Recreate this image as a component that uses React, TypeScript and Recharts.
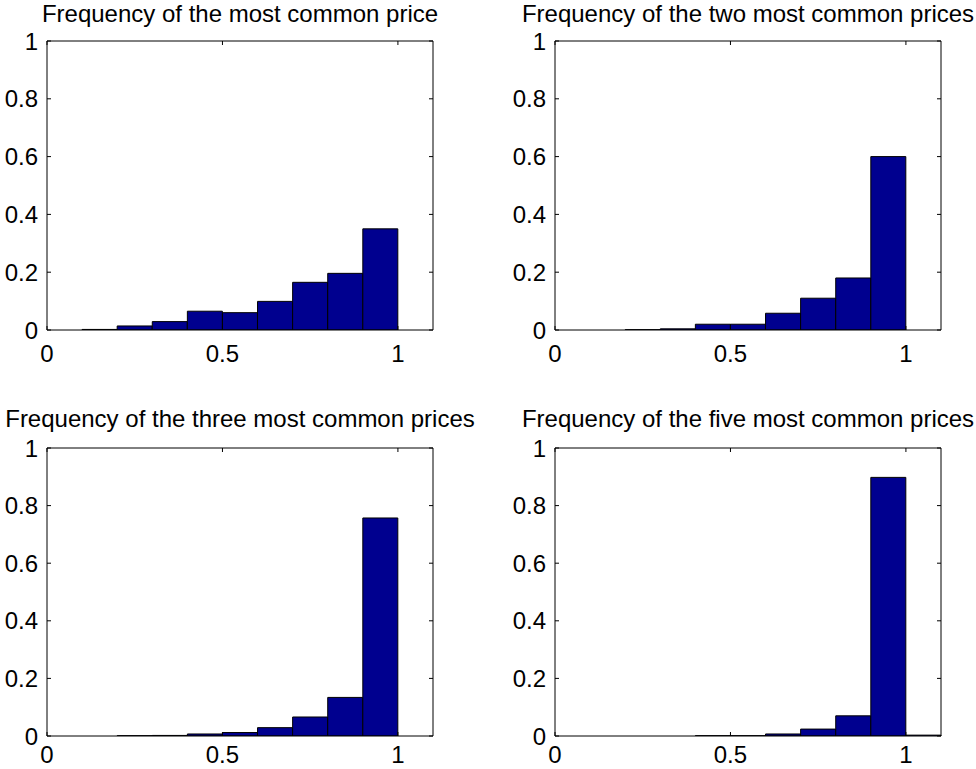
import { BarChart, Bar, XAxis, YAxis } from 'recharts';

// histogram bins of width 0.1, from 0 to 1.1
const bins = ['0-0.1', '0.1-0.2', '0.2-0.3', '0.3-0.4', '0.4-0.5', '0.5-0.6', '0.6-0.7', '0.7-0.8', '0.8-0.9', '0.9-1', '1-1.1'];
const binStarts = [0, 0.1, 0.2, 0.3, 0.4, 0.5, 0.6, 0.7, 0.8, 0.9, 1];

const mostCommon = [0, 0.002, 0.014, 0.029, 0.065, 0.06, 0.099, 0.165, 0.196, 0.35, 0];
const twoMostCommon = [0, 0, 0.001, 0.004, 0.02, 0.02, 0.058, 0.11, 0.18, 0.6, 0];
const threeMostCommon = [0, 0, 0.001, 0.002, 0.007, 0.012, 0.029, 0.066, 0.134, 0.757, 0];
const fiveMostCommon = [0, 0, 0, 0, 0.001, 0.001, 0.007, 0.024, 0.07, 0.898, 0.003];

const titles = [
  'Frequency of the most common price',
  'Frequency of the two most common prices',
  'Frequency of the three most common prices',
  'Frequency of the five most common prices'
];

const xTicks = [0, 0.5, 1];
const yTicks = [0, 0.2, 0.4, 0.6, 0.8, 1];

const FONT = '"Liberation Sans", Arial, Helvetica, sans-serif';
const BAR_FILL = '#00008f';
const TICK_LEN = 4;
const Y_MARGIN = 9;

// x ticks sit on bin edges, so shift from the band centre to its left edge
const edgeOf = (x: number, width: number) => x - width / bins.length / 2;

const BottomTick = ({ x, y, width, payload, gap }: any) => {
  const start = binStarts[payload.index];
  if (!xTicks.includes(start)) return <g />;
  const ex = edgeOf(x, width);
  return (
    <g>
      <line x1={ex} y1={y - gap} x2={ex} y2={y - gap - TICK_LEN} stroke="#000" />
      <text x={ex} y={y} dy="0.71em" textAnchor="middle" fill="#000" fontSize={24} fontFamily={FONT}>
        {start}
      </text>
    </g>
  );
};

const TopTick = ({ x, y, width, payload }: any) => {
  const start = binStarts[payload.index];
  if (!xTicks.includes(start)) return <g />;
  const ex = edgeOf(x, width);
  return <line x1={ex} y1={y} x2={ex} y2={y + TICK_LEN} stroke="#000" />;
};

const LeftTick = ({ x, y, payload }: any) => (
  <g>
    <line x1={x + Y_MARGIN} y1={y} x2={x + Y_MARGIN + TICK_LEN} y2={y} stroke="#000" />
    <text x={x} y={y} dy="0.355em" textAnchor="end" fill="#000" fontSize={24} fontFamily={FONT}>
      {payload.value}
    </text>
  </g>
);

const RightTick = ({ x, y }: any) => (
  <line x1={x} y1={y} x2={x - TICK_LEN} y2={y} stroke="#000" />
);

function Histogram({ values, plotHeight, axisHeight, labelGap }: { values: number[]; plotHeight: number; axisHeight: number; labelGap: number }) {
  const data = bins.map((bin, i) => ({ bin, freq: values[i] }));
  return (
    <BarChart
      width={441}
      height={21 + plotHeight + axisHeight}
      data={data}
      margin={{ top: 20, right: 0, bottom: 0, left: 0 }}
      barCategoryGap={0}
      barGap={0}
    >
      <XAxis
        xAxisId="bottom"
        dataKey="bin"
        interval={0}
        height={axisHeight}
        tickSize={0}
        tickMargin={labelGap}
        tick={<BottomTick gap={labelGap} />}
        axisLine={{ stroke: '#000' }}
        tickLine={false}
      />
      <XAxis
        xAxisId="top"
        orientation="top"
        dataKey="bin"
        interval={0}
        height={1}
        tickSize={0}
        tickMargin={0}
        tick={<TopTick />}
        axisLine={{ stroke: '#000' }}
        tickLine={false}
      />
      <YAxis
        yAxisId="left"
        type="number"
        domain={[0, 1]}
        ticks={yTicks}
        allowDataOverflow
        width={45}
        tickSize={0}
        tickMargin={Y_MARGIN}
        tick={<LeftTick />}
        axisLine={{ stroke: '#000' }}
        tickLine={false}
      />
      <YAxis
        yAxisId="right"
        orientation="right"
        type="number"
        domain={[0, 1]}
        ticks={yTicks}
        allowDataOverflow
        width={10}
        tickSize={0}
        tickMargin={0}
        tick={<RightTick />}
        axisLine={{ stroke: '#000' }}
        tickLine={false}
      />
      <Bar
        xAxisId="bottom"
        yAxisId="left"
        dataKey="freq"
        fill={BAR_FILL}
        stroke="#000"
        strokeWidth={1}
        isAnimationActive={false}
      />
      {/* invisible twin so the top / right frame axes get the same data */}
      <Bar
        xAxisId="top"
        yAxisId="right"
        dataKey="freq"
        fill="none"
        stroke="none"
        isAnimationActive={false}
      />
    </BarChart>
  );
}

const panels = [
  { values: mostCommon, left: 2, top: 20, plotHeight: 289, axisHeight: 42, labelGap: 15 },
  { values: twoMostCommon, left: 510, top: 20, plotHeight: 289, axisHeight: 42, labelGap: 15 },
  { values: threeMostCommon, left: 2, top: 427, plotHeight: 288, axisHeight: 33, labelGap: 10 },
  { values: fiveMostCommon, left: 510, top: 427, plotHeight: 288, axisHeight: 33, labelGap: 10 }
];

const titlePos = [
  { x: 240, y: 22 },
  { x: 748, y: 22 },
  { x: 240, y: 427 },
  { x: 748, y: 427 }
];

export default function App() {
  return (
    <div style={{ position: 'absolute', left: 0, top: 0, width: 976, height: 769, background: '#fff', overflow: 'hidden' }}>
      {panels.map((p, i) => (
        <div key={i} style={{ position: 'absolute', left: p.left, top: p.top }}>
          <Histogram values={p.values} plotHeight={p.plotHeight} axisHeight={p.axisHeight} labelGap={p.labelGap} />
        </div>
      ))}
      <svg width={976} height={769} style={{ position: 'absolute', left: 0, top: 0, pointerEvents: 'none' }}>
        {titles.map((t, i) => (
          <text key={i} x={titlePos[i].x} y={titlePos[i].y} textAnchor="middle" fontSize={24} fontFamily={FONT} fill="#000">
            {t}
          </text>
        ))}
      </svg>
    </div>
  );
}
